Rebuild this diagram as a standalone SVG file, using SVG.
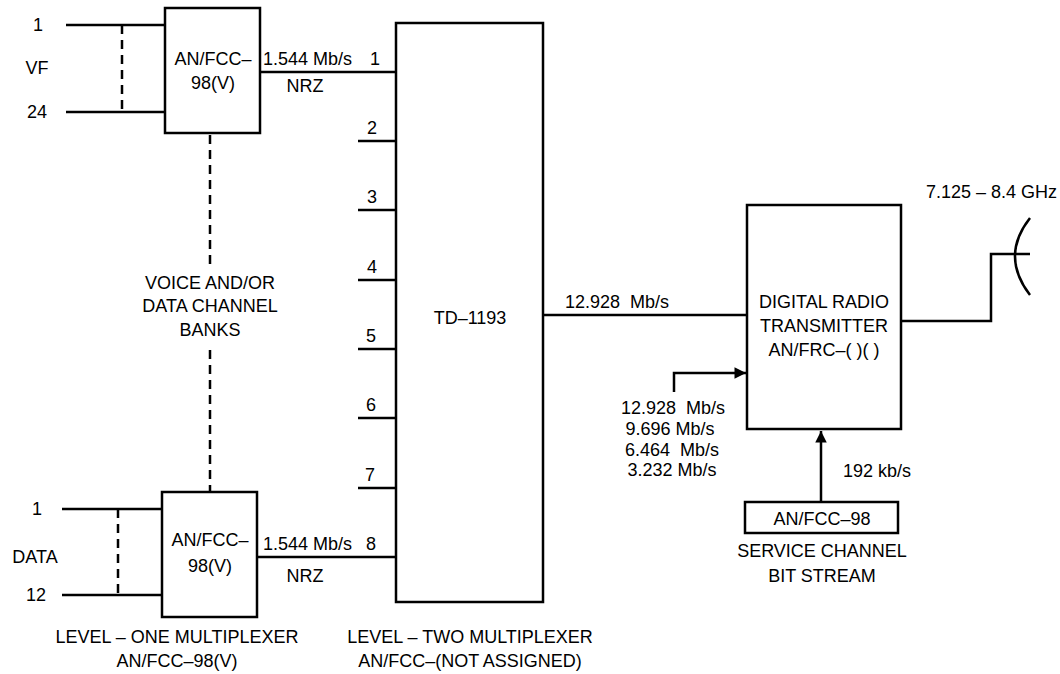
<svg xmlns="http://www.w3.org/2000/svg" width="1060" height="674" viewBox="0 0 1060 674">
<style>
text{font-family:"Liberation Sans",Arial,sans-serif;font-size:18px;fill:#000;white-space:pre}
.m{text-anchor:middle}
.box{fill:#fff;stroke:#000;stroke-width:2.5}
.ln{fill:none;stroke:#000;stroke-width:2.5}
.dash{fill:none;stroke:#000;stroke-width:2.5;stroke-dasharray:9,6}
</style>
<defs>
<marker id="ah" viewBox="0 0 10 10" refX="10" refY="5" markerWidth="6.5" markerHeight="4.6" markerUnits="strokeWidth" orient="auto"><path d="M0,0 L10,5 L0,10 z" fill="#000"/></marker>
</defs>
<rect width="1060" height="674" fill="#fff"/>
<g id="connectors">
<path class="ln" d="M66,25 H165 M66,112 H165"/>
<path class="dash" d="M122,25 V112"/>
<path class="ln" d="M62,509 H162 M62,595 H162"/>
<path class="dash" d="M118,509 V595"/>
<path class="dash" d="M210,135 V268 M210,350 V492"/>
<path class="ln" d="M260,72 H396 M257,557 H396"/>
<path class="ln" d="M358,141 H396 M358,210 H396 M358,280 H396 M358,349 H396 M358,418 H396 M358,488 H396"/>
<path class="ln" d="M543,315 H747"/>
<path class="ln" d="M674,392 V373 H746" marker-end="url(#ah)"/>
<path class="ln" d="M821,502 V431" marker-end="url(#ah)"/>
<path class="ln" d="M901,321 H991 V254 H1030"/>
<path class="ln" d="M1030,218 Q1000,256 1030,295"/>
</g>
<g id="vf-inputs">
<text x="38" y="31" class="m">1</text>
<text x="37" y="74" class="m">VF</text>
<text x="37" y="118" class="m">24</text>
</g>
<g id="data-inputs">
<text x="37" y="515" class="m">1</text>
<text x="35" y="563" class="m">DATA</text>
<text x="36" y="601" class="m">12</text>
</g>
<g id="mux1-top">
<rect class="box" x="165" y="8" width="95" height="125"/>
<text x="213" y="65" class="m">AN/FCC–</text>
<text x="213" y="89" class="m">98(V)</text>
</g>
<g id="mux1-bottom">
<rect class="box" x="162" y="492" width="95" height="125"/>
<text x="210" y="546" class="m">AN/FCC–</text>
<text x="210" y="572" class="m">98(V)</text>
</g>
<g id="banks-label">
<text x="210" y="289" class="m">VOICE AND/OR</text>
<text x="210" y="312" class="m">DATA CHANNEL</text>
<text x="210" y="336" class="m">BANKS</text>
</g>
<g id="link-labels">
<text x="263" y="65">1.544 Mb/s</text>
<text x="305" y="92" class="m">NRZ</text>
<text x="263" y="550">1.544 Mb/s</text>
<text x="305" y="582" class="m">NRZ</text>
<text x="375" y="65" class="m">1</text>
<text x="372" y="134" class="m">2</text>
<text x="372" y="203" class="m">3</text>
<text x="372" y="273" class="m">4</text>
<text x="371" y="342" class="m">5</text>
<text x="371" y="411" class="m">6</text>
<text x="370" y="481" class="m">7</text>
<text x="371" y="550" class="m">8</text>
</g>
<g id="td1193">
<rect class="box" x="396" y="23" width="147" height="579"/>
<text x="470" y="324" class="m">TD–1193</text>
</g>
<g id="captions">
<text x="177" y="643" class="m">LEVEL – ONE MULTIPLEXER</text>
<text x="177" y="667" class="m">AN/FCC–98(V)</text>
<text x="470" y="643" class="m">LEVEL – TWO MULTIPLEXER</text>
<text x="470" y="667" class="m">AN/FCC–(NOT ASSIGNED)</text>
</g>
<g id="rate-labels">
<text x="565" y="308" xml:space="preserve">12.928  Mb/s</text>
<text x="673" y="414" class="m" xml:space="preserve">12.928  Mb/s</text>
<text x="670" y="435" class="m">9.696 Mb/s</text>
<text x="672" y="456" class="m" xml:space="preserve">6.464  Mb/s</text>
<text x="672" y="476" class="m">3.232 Mb/s</text>
<text x="843" y="477">192 kb/s</text>
</g>
<g id="transmitter">
<rect class="box" x="747" y="205" width="154" height="224"/>
<text x="824" y="308" class="m">DIGITAL RADIO</text>
<text x="824" y="332" class="m">TRANSMITTER</text>
<text x="824" y="356" class="m">AN/FRC–( )( )</text>
</g>
<g id="service-channel">
<rect class="box" x="745" y="502" width="153" height="31"/>
<text x="822" y="525" class="m">AN/FCC–98</text>
<text x="822" y="557" class="m">SERVICE CHANNEL</text>
<text x="822" y="582" class="m">BIT STREAM</text>
</g>
<g id="antenna">
<text x="1057" y="198" text-anchor="end">7.125 – 8.4 GHz</text>
</g>
</svg>
